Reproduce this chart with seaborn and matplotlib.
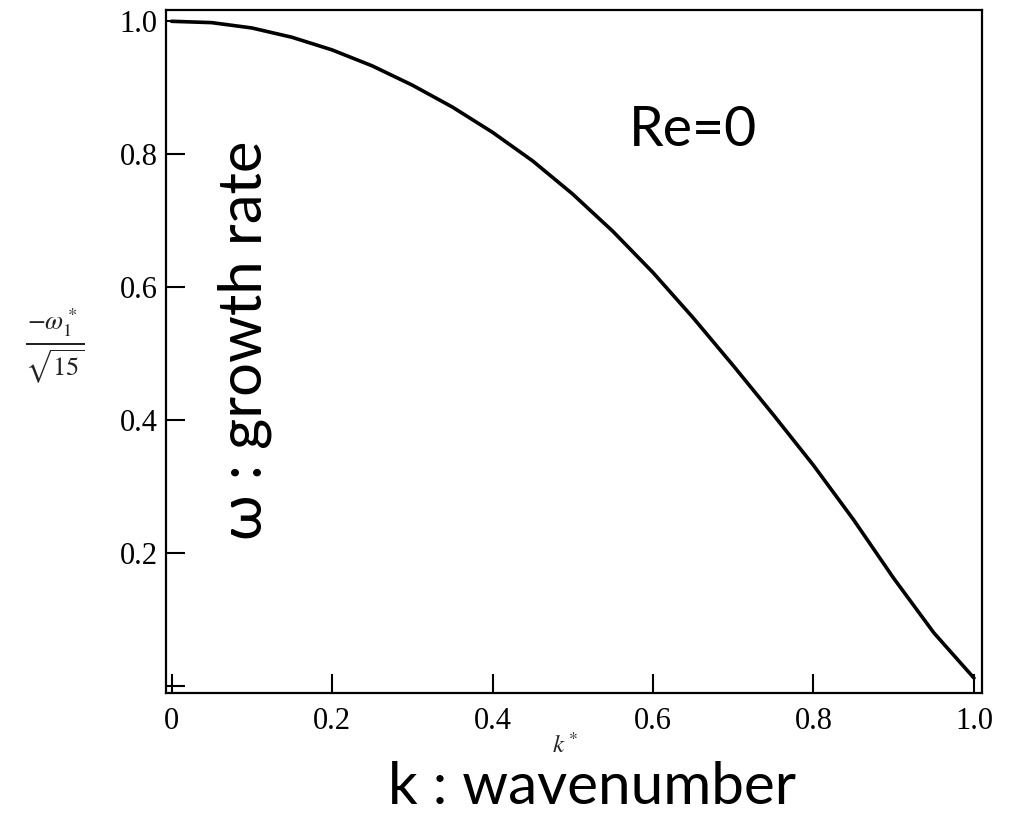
import matplotlib
matplotlib.use("Agg")
import matplotlib.pyplot as plt
import numpy as np
import pandas as pd
import seaborn as sns

# Growth rate of the disturbance versus dimensionless wavenumber (Re = 0)
wavenumber = [0.00, 0.05, 0.10, 0.15, 0.20, 0.25, 0.30, 0.35, 0.40, 0.45, 0.50,
              0.55, 0.60, 0.65, 0.70, 0.75, 0.80, 0.85, 0.90, 0.95, 1.00]
growth_rate = [1.000, 0.998, 0.990, 0.976, 0.957, 0.933, 0.904, 0.871, 0.833, 0.790, 0.740,
               0.684, 0.622, 0.554, 0.482, 0.408, 0.332, 0.250, 0.162, 0.080, 0.012]

x_ticks = [0.0, 0.2, 0.4, 0.6, 0.8, 1.0]
x_tick_labels = ["0", "0.2", "0.4", "0.6", "0.8", "1.0"]
y_ticks = [0.0, 0.2, 0.4, 0.6, 0.8, 1.0]
y_tick_labels = ["", "0.2", "0.4", "0.6", "0.8", "1.0"]

df = pd.DataFrame({"k": wavenumber, "omega": growth_rate})

sns.set_theme(style="ticks")
plt.rcParams["font.family"] = ["Liberation Serif", "DejaVu Serif"]
plt.rcParams["mathtext.fontset"] = "stix"

W, H = 1009, 817
fig = plt.figure(figsize=(W / 100, H / 100), dpi=100)
fig.patch.set_facecolor("white")
ax = fig.add_axes([166 / W, 1 - 693 / H, (982 - 166) / W, (693 - 10) / H])
ax.set_facecolor("white")

sns.lineplot(data=df, x="k", y="omega", color="black", linewidth=2.6, ax=ax)
ax.lines[0].set_solid_joinstyle("round")

ax.set_xlim(-0.0069, 1.0100)
ax.set_ylim(-0.0105, 1.017)
ax.set_xticks(x_ticks)
ax.set_xticklabels(x_tick_labels)
ax.set_yticks(y_ticks)
ax.set_yticklabels(y_tick_labels)
ax.set_xlabel("")
ax.set_ylabel("")

for side in ["left", "right", "top", "bottom"]:
    ax.spines[side].set_visible(True)
    ax.spines[side].set_color("black")
    ax.spines[side].set_linewidth(1.6)

ax.tick_params(axis="both", direction="in", length=14, width=1.5, colors="black",
               labelsize=22)
ax.tick_params(axis="x", pad=10)
ax.tick_params(axis="y", pad=6)

# Original axis symbols
fig.text(55 / W, 1 - 345 / H, r"$\frac{-\omega_1^*}{\sqrt{15}}$", fontsize=27,
         ha="center", va="center", color="#222222")
fig.text(565 / W, 1 - 745 / H, r"$k^*$", fontsize=18, ha="center", va="center",
         color="#222222")

# Annotations
sans = ["Lato", "DejaVu Sans"]
fig.text(693 / W, 1 - 130 / H, "Re=0", fontsize=40, family=sans,
         ha="center", va="center", color="black")
fig.text(245 / W, 1 - 340 / H, "ω : growth rate", fontsize=43, family=sans,
         rotation=90, ha="center", va="center", color="black")
fig.text(592 / W, 1 - 788 / H, "k : wavenumber", fontsize=42, family=sans,
         ha="center", va="center", color="black")

fig.savefig("out.png", dpi=100, facecolor="white")
